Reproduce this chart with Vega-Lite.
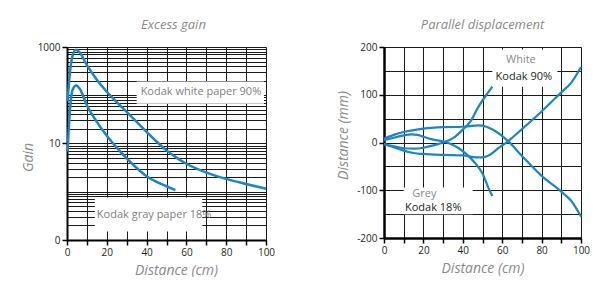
{
  "$schema": "https://vega.github.io/schema/vega-lite/v6.json",
  "background": "white",
  "padding": {"left": 21, "top": 19, "right": 0, "bottom": 0},
  "spacing": 118,
  "bounds": "flush",
  "config": {
    "font": "Open Sans",
    "view": {"stroke": null},
    "axis": {
      "labelFont": "Open Sans", "labelFontSize": 10, "labelColor": "#231f20",
      "domainColor": "#000000", "domainWidth": 2,
      "tickColor": "#000000", "tickWidth": 1.5, "tickSize": 5,
      "grid": true, "gridColor": "#1a1a1a", "gridWidth": 1, "gridOpacity": 1,
      "titleFont": "Open Sans", "titleFontStyle": "italic", "titleFontWeight": "normal",
      "titleColor": "#8a8a8a", "titleFontSize": 14,
      "labelOverlap": false, "labelBound": false, "labelFlush": false
    },
    "title": {"font": "Open Sans", "fontStyle": "italic", "fontWeight": "normal", "color": "#8a8a8a", "fontSize": 13}
  },
  "datasets": {
    "gain": [
      {"series": "white", "x": 0.3, "y": 75}, {"series": "white", "x": 1.5, "y": 300}, {"series": "white", "x": 2.5, "y": 590},
      {"series": "white", "x": 4.5, "y": 880}, {"series": "white", "x": 6.5, "y": 760}, {"series": "white", "x": 10, "y": 420},
      {"series": "white", "x": 15, "y": 210}, {"series": "white", "x": 20, "y": 118}, {"series": "white", "x": 25, "y": 72},
      {"series": "white", "x": 30, "y": 45}, {"series": "white", "x": 35, "y": 28}, {"series": "white", "x": 40, "y": 17.5},
      {"series": "white", "x": 45, "y": 11}, {"series": "white", "x": 50, "y": 7.2}, {"series": "white", "x": 55, "y": 5.1},
      {"series": "white", "x": 60, "y": 3.8}, {"series": "white", "x": 70, "y": 2.5}, {"series": "white", "x": 80, "y": 1.85},
      {"series": "white", "x": 90, "y": 1.45}, {"series": "white", "x": 100, "y": 1.15},
      {"series": "gray", "x": 0.3, "y": 6.8}, {"series": "gray", "x": 1.5, "y": 50}, {"series": "gray", "x": 2.8, "y": 130},
      {"series": "gray", "x": 4.7, "y": 160}, {"series": "gray", "x": 6.5, "y": 135}, {"series": "gray", "x": 10, "y": 62},
      {"series": "gray", "x": 15, "y": 28}, {"series": "gray", "x": 20, "y": 14.5}, {"series": "gray", "x": 25, "y": 8.2},
      {"series": "gray", "x": 30, "y": 4.9}, {"series": "gray", "x": 35, "y": 3.1}, {"series": "gray", "x": 40, "y": 2.1},
      {"series": "gray", "x": 45, "y": 1.6}, {"series": "gray", "x": 50, "y": 1.3}, {"series": "gray", "x": 54.5, "y": 1.08}
    ],
    "gainBoxes": [
      {"x": 35, "x2": 99, "y": 67, "y2": 193},
      {"x": 14, "x2": 68, "y": 0.15, "y2": 0.76}
    ],
    "gainLabels": [
      {"x": 37, "y": 118, "label": "Kodak white paper 90%"},
      {"x": 15, "y": 0.33, "label": "Kodak gray paper 18%"}
    ],
    "disp": [
      {"series": "white-a", "x": 0, "y": 8}, {"series": "white-a", "x": 5, "y": 16}, {"series": "white-a", "x": 10, "y": 22},
      {"series": "white-a", "x": 15, "y": 26}, {"series": "white-a", "x": 20, "y": 29}, {"series": "white-a", "x": 30, "y": 32},
      {"series": "white-a", "x": 40, "y": 33}, {"series": "white-a", "x": 48, "y": 36}, {"series": "white-a", "x": 52, "y": 33},
      {"series": "white-a", "x": 56, "y": 25}, {"series": "white-a", "x": 63, "y": 3}, {"series": "white-a", "x": 70, "y": -28},
      {"series": "white-a", "x": 80, "y": -70}, {"series": "white-a", "x": 90, "y": -103}, {"series": "white-a", "x": 95, "y": -122},
      {"series": "white-a", "x": 100, "y": -155},
      {"series": "white-b", "x": 0, "y": -3}, {"series": "white-b", "x": 5, "y": -10}, {"series": "white-b", "x": 10, "y": -17},
      {"series": "white-b", "x": 15, "y": -22}, {"series": "white-b", "x": 20, "y": -24}, {"series": "white-b", "x": 30, "y": -26},
      {"series": "white-b", "x": 40, "y": -27}, {"series": "white-b", "x": 47, "y": -31}, {"series": "white-b", "x": 50, "y": -31},
      {"series": "white-b", "x": 54, "y": -25}, {"series": "white-b", "x": 58, "y": -12}, {"series": "white-b", "x": 63, "y": 3},
      {"series": "white-b", "x": 70, "y": 28}, {"series": "white-b", "x": 80, "y": 65}, {"series": "white-b", "x": 90, "y": 105},
      {"series": "white-b", "x": 95, "y": 125}, {"series": "white-b", "x": 100, "y": 158},
      {"series": "grey-a", "x": 0, "y": 5}, {"series": "grey-a", "x": 5, "y": 10}, {"series": "grey-a", "x": 10, "y": 15},
      {"series": "grey-a", "x": 14, "y": 17}, {"series": "grey-a", "x": 17, "y": 16}, {"series": "grey-a", "x": 20, "y": 12},
      {"series": "grey-a", "x": 25, "y": 6}, {"series": "grey-a", "x": 32, "y": 0}, {"series": "grey-a", "x": 38, "y": -12},
      {"series": "grey-a", "x": 42, "y": -25}, {"series": "grey-a", "x": 46, "y": -42}, {"series": "grey-a", "x": 50, "y": -65},
      {"series": "grey-a", "x": 53, "y": -95}, {"series": "grey-a", "x": 55, "y": -112},
      {"series": "grey-b", "x": 0, "y": -4}, {"series": "grey-b", "x": 5, "y": -8}, {"series": "grey-b", "x": 10, "y": -12},
      {"series": "grey-b", "x": 15, "y": -13}, {"series": "grey-b", "x": 20, "y": -11}, {"series": "grey-b", "x": 25, "y": -6},
      {"series": "grey-b", "x": 32, "y": 3}, {"series": "grey-b", "x": 36, "y": 12}, {"series": "grey-b", "x": 40, "y": 27},
      {"series": "grey-b", "x": 44, "y": 45}, {"series": "grey-b", "x": 48, "y": 75}, {"series": "grey-b", "x": 52, "y": 100},
      {"series": "grey-b", "x": 55, "y": 117}
    ],
    "dispBoxes": [
      {"x": 55, "x2": 88, "y": 117, "y2": 195},
      {"x": 10, "x2": 45, "y": -150, "y2": -94}
    ],
    "dispLabels": [
      {"x": 69.5, "y": 172, "label": "White", "kind": "colour"},
      {"x": 71, "y": 137, "label": "Kodak 90%", "kind": "name"},
      {"x": 20.5, "y": -107, "label": "Grey", "kind": "colour"},
      {"x": 25, "y": -138, "label": "Kodak 18%", "kind": "name"}
    ]
  },
  "hconcat": [
    {
      "width": 199,
      "height": 193,
      "title": {"text": "Excess gain", "offset": 10, "dx": 7},
      "encoding": {
        "x": {"field": "x", "type": "quantitative", "scale": {"domain": [0, 100], "nice": false},
          "axis": {"title": "Distance (cm)", "grid": true, "values": [0, 10, 20, 30, 40, 50, 60, 70, 80, 90, 100],
            "labelExpr": "datum.value % 20 == 0 ? datum.label : ''", "titlePadding": 6, "titleX": 109}},
        "y": {"field": "y", "type": "quantitative", "scale": {"type": "log", "domain": [0.1, 1000], "nice": false},
          "axis": {"title": "Gain", "format": "d", "grid": true,
            "values": [0.1, 0.2, 0.3, 0.4, 0.5, 0.6, 0.7, 0.8, 0.9, 1, 2, 3, 4, 5, 6, 7, 8, 9, 10, 20, 30, 40, 50, 60, 70, 80, 90, 100, 200, 300, 400, 500, 600, 700, 800, 900, 1000],
            "labelExpr": "(datum.value == 0.1 || datum.value == 10 || datum.value == 1000) ? datum.label : ''",
            "tickOpacity": {"condition": {"test": "datum.value == 0.1 || datum.value == 10 || datum.value == 1000", "value": 1}, "value": 0},
            "labelPadding": 2, "titlePadding": 6, "titleY": 110, "titleX": -32}}
      },
      "layer": [
        {
          "data": {"name": "gainBoxes"},
          "mark": {"type": "rect", "fill": "white", "stroke": null},
          "encoding": {"x2": {"field": "x2"}, "y2": {"field": "y2"}}
        },
        {
          "data": {"name": "gain"},
          "mark": {"type": "line", "interpolate": "monotone", "strokeWidth": 2.5, "color": "#1b85c8"},
          "encoding": {"detail": {"field": "series"}}
        },
        {
          "data": {"name": "gainLabels"},
          "mark": {"type": "text", "align": "left", "baseline": "middle", "fontSize": 11, "color": "#808080", "font": "Open Sans"},
          "encoding": {"text": {"field": "label"}}
        }
      ]
    },
    {
      "width": 197,
      "height": 191,
      "title": {"text": "Parallel displacement", "offset": 10},
      "encoding": {
        "x": {"field": "x", "type": "quantitative", "scale": {"domain": [0, 100], "nice": false},
          "axis": {"title": "Distance (cm)", "grid": true, "values": [0, 10, 20, 30, 40, 50, 60, 70, 80, 90, 100],
            "labelExpr": "datum.value % 20 == 0 ? datum.label : ''", "titlePadding": 6, "domainWidth": 2.5}},
        "y": {"field": "y", "type": "quantitative", "scale": {"domain": [-200, 200], "nice": false},
          "axis": {"title": "Distance (mm)", "grid": true,
            "values": [-200, -150, -100, -50, 0, 50, 100, 150, 200],
            "labelExpr": "datum.value % 100 == 0 ? '' + datum.value : ''",
            "tickOpacity": {"condition": {"test": "datum.value % 100 == 0", "value": 1}, "value": 0},
            "labelPadding": 2, "titlePadding": 6, "domainWidth": 2.5, "titleY": 88}}
      },
      "layer": [
        {
          "data": {"name": "dispBoxes"},
          "mark": {"type": "rect", "fill": "white", "stroke": null},
          "encoding": {"x2": {"field": "x2"}, "y2": {"field": "y2"}}
        },
        {
          "data": {"name": "disp"},
          "mark": {"type": "line", "interpolate": "monotone", "strokeWidth": 2.2, "color": "#1b85c8"},
          "encoding": {"detail": {"field": "series"}}
        },
        {
          "data": {"name": "dispLabels"},
          "mark": {"type": "text", "align": "center", "baseline": "middle", "fontSize": 11, "font": "Open Sans"},
          "encoding": {
            "text": {"field": "label"},
            "color": {"field": "kind", "type": "nominal", "scale": {"domain": ["colour", "name"], "range": ["#8a8a8a", "#231f20"]}, "legend": null}
          }
        }
      ]
    }
  ]
}
